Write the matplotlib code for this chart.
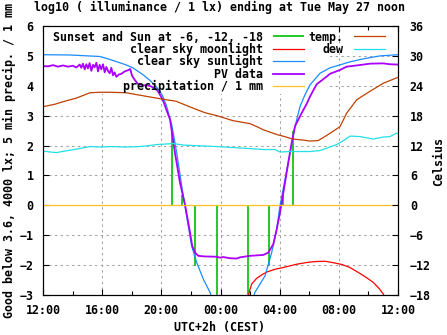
import matplotlib
matplotlib.use("Agg")
import matplotlib.pyplot as plt
from matplotlib.patches import Rectangle
from matplotlib.ticker import MultipleLocator

# ---- data (hours after Mon 12:00 local time) ----
xtick_hours = [0, 4, 8, 12, 16, 20, 24]
xtick_labels = ["12:00", "16:00", "20:00", "00:00", "04:00", "08:00", "12:00"]

# sunset and sun at -6, -12, -18 (impulses)
sun_h = [8.74, 9.38, 10.28, 11.74, 13.88, 15.30, 16.22, 16.92]
sun_v = [2.5, 0.35, -2.03, -3.5, -3.5, -2.03, 0.35, 2.5]

# clear sky moonlight (log10 lx)
moon_h = [13.86, 13.97, 14.11, 14.45, 14.81, 15.14, 15.68, 16.25, 17.15, 18.0,
          18.5, 19.06, 19.63, 20.21, 20.75, 21.43, 21.90, 22.33, 22.72, 23.01, 23.12]
moon_v = [-3.1, -2.85, -2.63, -2.44, -2.32, -2.23, -2.14, -2.08, -1.97, -1.9,
          -1.88, -1.87, -1.92, -1.98, -2.08, -2.28, -2.43, -2.58, -2.78, -2.97, -3.1]

# clear sky sunlight (log10 lx)
sunl_h = [0.0, 1.83, 3.85, 4.53, 5.61, 6.08, 6.76, 7.23, 7.64, 7.91, 8.11, 8.36,
          8.70, 9.04, 9.38, 9.60, 9.82, 10.05, 10.39, 10.84, 11.29, 11.56,
          14.06, 14.33, 15.01, 15.46, 15.80, 16.02, 16.36, 16.70, 17.04, 17.38,
          17.71, 18.05, 18.73, 19.40, 20.08, 20.75, 21.63, 22.78, 24.0]
sunl_v = [5.04, 5.03, 4.98, 4.88, 4.7, 4.6, 4.37, 4.18, 3.98, 3.81, 3.64, 3.31,
          2.7, 1.76, 0.64, -0.02, -0.69, -1.36, -1.91, -2.47, -2.91, -3.3,
          -3.3, -2.91, -2.36, -1.58, -0.8, -0.02, 0.87, 1.76, 2.64, 3.31,
          3.7, 4.03, 4.42, 4.6, 4.7, 4.8, 4.9, 5.0, 5.04]

# PV data (log10 lx)
pv_h = [0.0, 0.34, 0.68, 1.01, 1.35, 1.69, 2.03, 2.25, 2.48, 2.59, 2.70, 2.82,
        2.93, 3.04, 3.15, 3.27, 3.38, 3.49, 3.61, 3.72, 3.83, 3.94, 4.06, 4.17,
        4.28, 4.39, 4.51, 4.62, 4.73, 4.84, 4.96, 5.14, 5.30, 5.52, 5.75, 5.90,
        5.97, 6.04, 6.20, 6.42, 6.76, 7.21, 7.55, 7.77, 8.0, 8.16, 8.34,
        8.59, 8.92, 9.26, 9.60, 9.78, 9.94, 10.09, 10.28, 10.50, 10.95, 11.74,
        11.97, 12.19, 12.64, 13.10, 13.32, 13.99, 14.89, 15.23, 15.57, 15.80,
        15.98, 16.14, 16.36, 16.58, 16.81, 17.04, 17.49, 17.83, 18.05, 18.50,
        19.18, 19.40, 20.08, 20.53, 21.21, 22.11, 22.99, 23.46, 24.0]
pv_v = [4.66, 4.65, 4.69, 4.64, 4.68, 4.64, 4.67, 4.61, 4.71, 4.6, 4.74, 4.55,
        4.72, 4.58, 4.76, 4.5, 4.7, 4.62, 4.77, 4.48, 4.7, 4.55, 4.72, 4.45,
        4.63, 4.5, 4.42, 4.6, 4.35, 4.45, 4.3, 4.38, 4.4, 4.48, 4.52, 4.56,
        4.42, 4.32, 4.2, 4.06, 4.02, 4.0, 3.92, 3.82, 3.62, 3.45, 3.2,
        2.87, 1.76, 0.76, 0.02, -0.47, -0.91, -1.36, -1.58, -1.69, -1.71, -1.72,
        -1.75, -1.73, -1.77, -1.78, -1.74, -1.69, -1.66, -1.58, -1.3, -0.8,
        -0.36, 0.09, 0.76, 1.42, 2.09, 2.65, 3.09, 3.4, 3.64, 4.05,
        4.31, 4.4, 4.53, 4.64, 4.68, 4.74, 4.75, 4.72, 4.71]

# precipitation / 1 mm
precip_h = [0.0, 24.0]
precip_v = [0.0, 0.0]

# temperature (Celsius)
temp_h = [0.0, 0.81, 1.35, 2.23, 3.18, 3.85, 4.53, 5.61, 6.76, 7.91, 8.99, 9.74,
          10.41, 10.95, 11.76, 12.84, 13.99, 14.53, 14.87, 15.82, 16.22, 16.90,
          17.58, 18.05, 18.59, 18.95, 19.63, 20.08, 20.53, 21.21, 22.11, 23.0, 24.0]
temp_c = [19.8, 20.3, 20.8, 21.5, 22.6, 22.7, 22.7, 22.6, 22.0, 21.4, 20.9, 20.0,
          19.2, 18.6, 18.0, 17.0, 16.4, 15.7, 15.2, 14.2, 13.9, 13.3,
          13.1, 12.9, 13.0, 13.6, 14.9, 15.8, 18.5, 21.2, 22.9, 24.5, 25.7]

# dew point (Celsius)
dew_h = [0.0, 0.5, 0.93, 1.5, 2.28, 3.18, 4.0, 4.53, 5.66, 6.56, 7.2, 7.69, 8.81,
         9.5, 10.16, 11.0, 11.74, 12.85, 13.99, 14.89, 15.68, 16.02, 16.70,
         18.05, 18.73, 19.86, 20.42, 20.75, 21.43, 22.33, 22.99, 23.46, 23.91, 24.0]
dew_c = [10.9, 10.7, 10.6, 10.9, 11.3, 11.8, 11.7, 11.8, 11.7, 11.8, 12.0, 12.2, 12.4,
         12.1, 12.0, 11.9, 11.8, 11.6, 11.4, 11.2, 11.2, 10.7, 10.8,
         10.8, 11.0, 12.2, 13.2, 13.9, 13.8, 13.3, 13.7, 13.8, 14.5, 14.3]

# ---- style ----
FONT = "DejaVu Sans Mono"
FS = 8.4
plt.rcParams["font.family"] = FONT
plt.rcParams["font.weight"] = "bold"
plt.rcParams["font.size"] = FS

C_GREEN = "#00c000"
C_RED = "#ff0000"
C_BLUE = "#1a8cff"
C_PURPLE = "#aa00ff"
C_PRECIP = "#ffc020"
C_TEMP = "#c04000"
C_DEW = "#20e0e8"

fig = plt.figure(figsize=(4.47, 3.35), dpi=100)
ax = fig.add_axes([43 / 447, 40 / 335, 355 / 447, 269 / 335])
ax.set_xlim(0, 24)
ax.set_ylim(-3, 6)
ax.set_axisbelow(True)

# grid
ax.grid(True, which="major", color="#a0a0a0", lw=0.75, linestyle=(0, (2.2, 3.3)))

# opaque key background (hides grid only)
ax.add_patch(Rectangle((0, 0.747), 0.808, 0.253, transform=ax.transAxes,
                       facecolor="white", edgecolor="none", zorder=1))

lw = 0.9
h_sun = ax.vlines(sun_h, 0, sun_v, colors=C_GREEN, lw=1.2, zorder=2,
                  label="Sunset and Sun at -6, -12, -18")
h_moon, = ax.plot(moon_h, moon_v, color=C_RED, lw=lw, zorder=2,
                  label="clear sky moonlight")
h_sunl, = ax.plot(sunl_h, sunl_v, color=C_BLUE, lw=lw, zorder=2,
                  label="clear sky sunlight")
h_pv, = ax.plot(pv_h, pv_v, color=C_PURPLE, lw=1.3, zorder=2, label="PV data")
h_pr, = ax.plot(precip_h, precip_v, color=C_PRECIP, lw=lw, zorder=2,
                label="precipitation / 1 mm")

ax2 = ax.twinx()
ax2.set_ylim(-18, 36)
h_temp, = ax2.plot(temp_h, temp_c, color=C_TEMP, lw=lw, label="temp.")
h_dew, = ax2.plot(dew_h, dew_c, color=C_DEW, lw=lw, label="dew")

# ticks
ax.set_xticks(xtick_hours)
ax.set_xticklabels(xtick_labels)
ax.xaxis.set_minor_locator(MultipleLocator(2))
ax.set_yticks(range(-3, 7))
ax.tick_params(axis="both", which="both", direction="in", top=True, right=False,
               width=0.8, labelsize=FS)
ax.tick_params(axis="both", which="major", length=4.5)
ax.tick_params(axis="x", which="minor", length=3)
ax.tick_params(axis="x", which="major", pad=6.5)
ax.tick_params(axis="y", which="major", pad=6.8)
ax2.set_yticks(range(-18, 37, 6))
ax2.tick_params(axis="y", direction="in", length=4.5, width=0.8, pad=8.5, labelsize=FS)
for a in (ax, ax2):
    for s in a.spines.values():
        s.set_linewidth(0.8)
        s.set_color("black")

# texts
fig.text(220 / 447, 1 - 7 / 335, "log10 ( illuminance / 1 lx) ending at Tue May 27 noon",
         ha="center", va="center", fontsize=FS)
fig.text(220 / 447, 1 - 327.5 / 335, "UTC+2h (CEST)", ha="center", va="center", fontsize=FS)
fig.text(9 / 447, 1 - 161 / 335, "Good below 3.6, 4000 lx; 5 min precip. / 1 mm",
         ha="center", va="center", rotation=90, fontsize=FS)
fig.text(438.5 / 447, 1 - 161 / 335, "Celsius", ha="center", va="center",
         rotation=90, fontsize=FS)

# key (gnuplot style: text right-aligned, sample to the right)
common = dict(markerfirst=False, frameon=False, borderpad=0, borderaxespad=0,
              handlelength=2.66, handletextpad=0.86, labelspacing=-0.06,
              fontsize=FS, loc="upper right")
leg1 = ax2.legend(handles=[h_sun, h_moon, h_sunl, h_pv, h_pr],
                  bbox_to_anchor=(0.735, 0.983), **common)
ax2.add_artist(leg1)
ax2.legend(handles=[h_temp, h_dew], bbox_to_anchor=(0.963, 0.983), **common)

fig.savefig("out.png", dpi=100)
